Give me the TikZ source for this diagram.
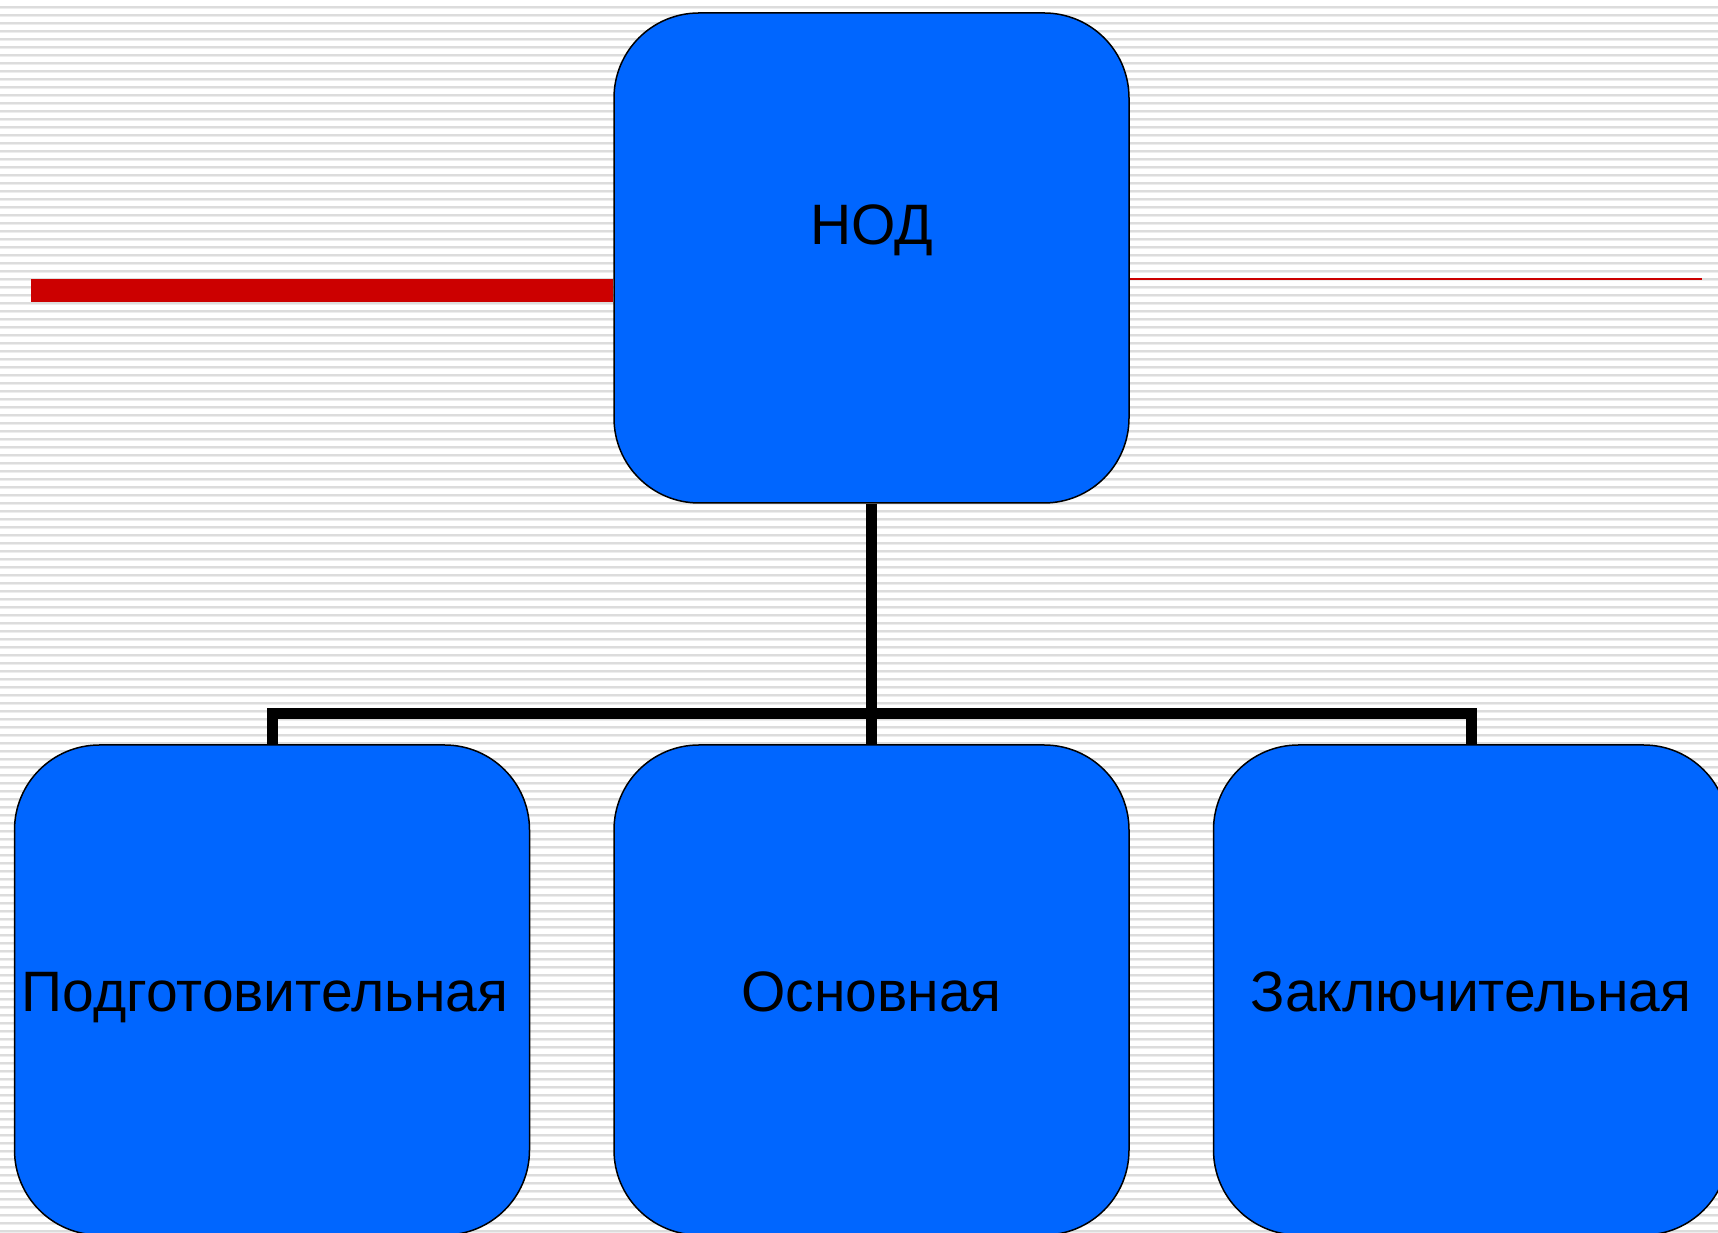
\documentclass[tikz,border=0pt]{standalone}
\usepackage{fontspec}
\setmainfont{Liberation Sans}
\usetikzlibrary{positioning}
\definecolor{boxblue}{HTML}{0066FF}
\definecolor{barred}{HTML}{CC0000}
\definecolor{stripe}{HTML}{DCDCDC}
\definecolor{stripelight}{HTML}{EDEDED}
\tikzset{
  stage/.style={draw=black, line width=1.5pt, fill=boxblue, rounded corners=85pt,
    minimum width=515pt, minimum height=490pt, inner sep=0pt},
  stagetext/.style={font=\fontsize{57}{68}\selectfont, text=black, inner sep=0pt, anchor=base},
  link/.style={line width=11pt, draw=black}
}
\begin{document}
\begin{tikzpicture}[x=1pt, y=1pt]
  \useasboundingbox (0,0) rectangle (1718,1233);
  % striped background
  \fill[white] (0,0) rectangle (1718,1233);
  \foreach \k in {0,...,153}{
    \fill[stripe] (0,{1233-6-8*\k}) rectangle (1718,{1233-8-8*\k});
    \fill[stripelight] (0,{1233-8-8*\k}) rectangle (1718,{1233-9-8*\k});
  }
  % boxes
  \node[stage] (nod) at (871.5,975) {};
  \node[stagetext] (nodlbl) at ([yshift=13pt]nod.center) {НОД};
  \node[stage] (prep) at (272,243) {};
  \node[stage] (main) at (871.5,243) {};
  \node[stage] (final) at (1471,243) {};
  \node[stagetext] (preplbl) at ([xshift=-7pt, yshift=-22pt]prep.center) {Подготовительная};
  \node[stagetext] (mainlbl) at ([yshift=-22pt]main.center) {Основная};
  \node[stagetext] (finallbl) at ([yshift=-22pt]final.center) {Заключительная};
  % red lines
  \coordinate (redl) at (31,942.5);
  \coordinate (redr) at (1702,954);
  \draw[barred, line width=23pt] (redl) -- (redl -| nod.west);
  \draw[barred, line width=1.5pt] (redr -| nod.east) -- (redr);
  % tree connectors
  \coordinate (fork) at (871.5,519);
  \draw[link] (nod.south) -- (main.north);
  \draw[link, line join=miter] (prep.north) |- (fork) -| (final.north);
\end{tikzpicture}
\end{document}
